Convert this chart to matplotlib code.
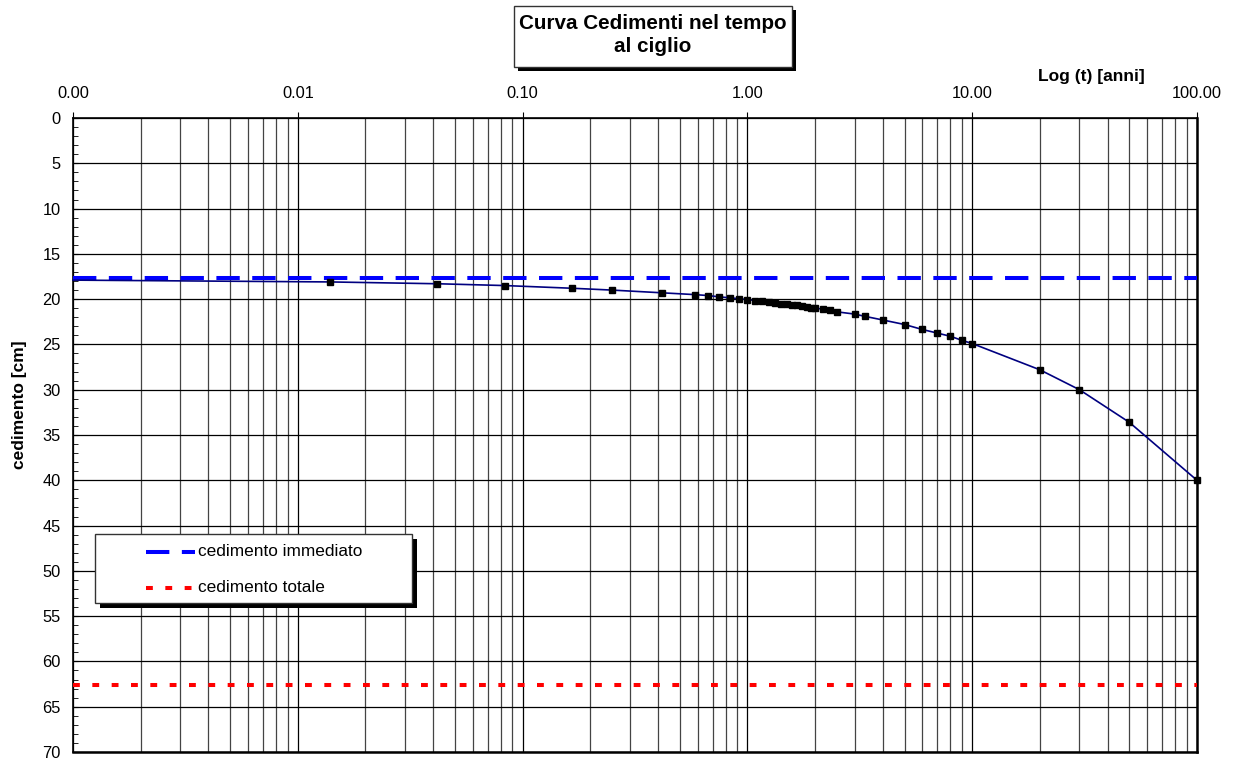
import matplotlib.pyplot as plt
from matplotlib.patches import Rectangle
from matplotlib.lines import Line2D
from matplotlib.ticker import FixedLocator, LogLocator, MultipleLocator, FormatStrFormatter

plt.rcParams['font.family'] = ['Liberation Sans', 'DejaVu Sans']

# tempo [anni] e cedimento [cm]
t_anni = [0.001, 0.0139, 0.0417, 0.0833, 0.1667, 0.25, 0.4167, 0.5833, 0.6667,
          0.75, 0.8333, 0.9167, 1.0, 1.0833, 1.1667, 1.25, 1.3333, 1.4167, 1.5,
          1.5833, 1.6667, 1.75, 1.8333, 1.9167, 2.0, 2.1667, 2.3333, 2.5, 3.0,
          3.3333, 4.0, 5.0, 6.0, 7.0, 8.0, 9.0, 10.0, 20.0, 30.0, 50.0, 100.0]
cedimento = [17.9, 18.1, 18.3, 18.5, 18.8, 19.0, 19.3, 19.5, 19.6,
             19.75, 19.85, 19.95, 20.05, 20.15, 20.25, 20.3, 20.4, 20.5, 20.55,
             20.65, 20.7, 20.8, 20.85, 20.95, 21.0, 21.1, 21.25, 21.4, 21.65,
             21.9, 22.3, 22.8, 23.35, 23.75, 24.1, 24.55, 24.9, 27.8, 30.0, 33.6, 40.0]
ced_immediato = 17.7
ced_totale = 62.6

x_ticks = [0.001, 0.01, 0.1, 1, 10, 100]
y_ticks = [0, 5, 10, 15, 20, 25, 30, 35, 40, 45, 50, 55, 60, 65, 70]
legend_labels = ['cedimento immediato', 'cedimento totale']
title = 'Curva Cedimenti nel tempo\nal ciglio'

W, H = 1241, 760


def fx(x):
    return x / W


def fy(y):
    return 1 - y / H


fig = plt.figure(figsize=(W / 100, H / 100), dpi=100)
ax = fig.add_axes([fx(73), fy(752), 1124 / W, 634 / H])

ax.set_xscale('log')
ax.set_xlim(x_ticks[0], x_ticks[-1])
ax.set_ylim(y_ticks[-1], y_ticks[0])

blue_dash = (5.8, 3.1)
red_dash = (1.7, 3.1)
ax.axhline(ced_immediato, color='#0000ff', lw=2.9, dashes=blue_dash, zorder=3)
ax.axhline(ced_totale, color='#ff0000', lw=2.9, dashes=red_dash, zorder=3)
ax.plot(t_anni, cedimento, color='#000080', lw=1.2, marker='s', ms=5,
        mfc='black', mec='black', markevery=list(range(1, len(t_anni))),
        zorder=4, clip_on=False)

# griglia
ax.grid(which='major', axis='both', color='black', lw=0.9)
ax.grid(which='minor', axis='x', color='#444444', lw=0.9)
ax.set_axisbelow(True)

ax.xaxis.tick_top()
ax.xaxis.set_major_locator(FixedLocator(x_ticks))
ax.xaxis.set_major_formatter(FormatStrFormatter('%.2f'))
ax.xaxis.set_minor_locator(LogLocator(base=10, subs=[2, 3, 4, 5, 6, 7, 8, 9], numticks=20))
ax.tick_params(axis='x', which='major', direction='out', length=4, pad=8, labelsize=11.8)
ax.tick_params(axis='x', which='minor', length=0)

ax.yaxis.set_major_locator(FixedLocator(y_ticks))
ax.yaxis.set_minor_locator(MultipleLocator(1))
ax.tick_params(axis='y', which='both', direction='in', length=3.5, pad=9, labelsize=11.8)

for s in ['left', 'top']:
    ax.spines[s].set_linewidth(1.2)
for s in ['right', 'bottom']:
    ax.spines[s].set_linewidth(1.8)

# etichette assi
fig.text(fx(1091), fy(76), 'Log (t) [anni]', fontsize=12.5, fontweight='bold',
         ha='center', va='center')
fig.text(fx(20), fy(405), 'cedimento [cm]', fontsize=12.5, fontweight='bold',
         rotation=90, ha='center', va='center')

# titolo in riquadro con ombra
fig.add_artist(Rectangle((fx(518), fy(71)), (792 - 514) / W, (67 - 6) / H,
                         transform=fig.transFigure, fc='black', ec='none'))
fig.add_artist(Rectangle((fx(514), fy(67)), (792 - 514) / W, (67 - 6) / H,
                         transform=fig.transFigure, fc='white', ec='#333333', lw=1))
fig.text(fx(653), fy(35), title, fontsize=14.9, fontweight='bold',
         ha='center', va='center', linespacing=1.3, zorder=5)

# legenda
fig.add_artist(Rectangle((fx(100), fy(608)), (412 - 95) / W, (603 - 534) / H,
                         transform=fig.transFigure, fc='black', ec='none'))
fig.add_artist(Rectangle((fx(95), fy(603)), (412 - 95) / W, (603 - 534) / H,
                         transform=fig.transFigure, fc='white', ec='#333333', lw=1))
for ly, col, dsh, lab in [(552, '#0000ff', blue_dash, legend_labels[0]),
                          (588, '#ff0000', red_dash, legend_labels[1])]:
    fig.add_artist(Line2D([fx(146), fx(195)], [fy(ly), fy(ly)], transform=fig.transFigure,
                          color=col, lw=2.9, dashes=dsh))
    fig.text(fx(198), fy(ly), lab, fontsize=12.4, ha='left', va='center', zorder=5)

fig.savefig('out.png', dpi=100)
